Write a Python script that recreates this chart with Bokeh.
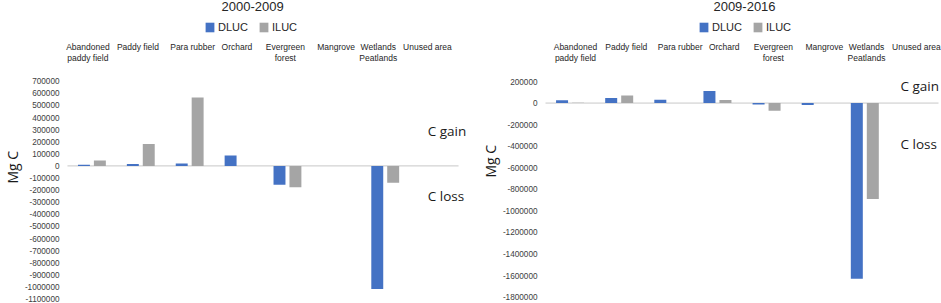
from bokeh.plotting import figure
from bokeh.layouts import row
from bokeh.models import (Range1d, FixedTicker, LinearAxis, Label, Legend, LegendItem,
                          NumeralTickFormatter, Title)
from bokeh.embed import file_html
from bokeh.resources import INLINE
import numpy as np

categories = ["Abandoned\npaddy field", "Paddy field", "Para rubber", "Orchard",
              "Evergreen\nforest", "Mangrove", "Wetlands\nPeatlands", "Unused area"]
series_names = ["DLUC", "ILUC"]

# 2000-2009 (Mg C)
title_a = "2000-2009"
dluc_a = [10000, 15000, 20000, 85000, -155000, 0, -1017000, 0]
iluc_a = [44000, 182000, 565000, 0, -177000, 0, -140000, 0]
ticks_a = list(range(-1100000, 700001, 100000))

# 2009-2016 (Mg C)
title_b = "2009-2016"
dluc_b = [25000, 46000, 30000, 111000, -13000, -18000, -1630000, 0]
iluc_b = [3000, 71000, 0, 28000, -71000, 0, -890000, 0]
ticks_b = list(range(-1800000, 200001, 200000))

BLUE = "#4472C4"
GRAY = "#A5A5A5"
FONT = "Liberation Sans"
H = 303


def panel(title, dluc, iluc, ticks, width, frame_left, fl, fr, tick_px, lay):
    n = len(categories)
    cw = (fr - fl) / n
    v_top, v_bot = ticks[-1], ticks[0]
    px_top, px_bot = tick_px
    s = (px_bot - px_top) / (v_top - v_bot)
    y0 = v_bot - (H - px_bot) / s
    y1 = v_top + px_top / s

    def vy(px):
        return v_top + (px_top - px) / s

    def vx(px):
        return (px - fl) / cw

    p = figure(width=width, height=H, output_backend="svg", toolbar_location=None,
               x_range=Range1d(vx(frame_left), vx(width)), y_range=Range1d(y0, y1),
               x_axis_location=None, y_axis_location=None,
               min_border_left=frame_left, min_border_right=0,
               min_border_top=0, min_border_bottom=0)
    p.outline_line_color = None
    p.grid.visible = False

    ya = LinearAxis(ticker=FixedTicker(ticks=ticks), formatter=NumeralTickFormatter(format="0"))
    ya.axis_line_color = None
    ya.major_tick_line_color = None
    ya.minor_tick_line_color = None
    ya.major_tick_in = 0
    ya.major_tick_out = 0
    ya.major_label_text_font = FONT
    ya.major_label_text_font_size = "8.2px"
    ya.major_label_text_color = "#404040"
    ya.major_label_standoff = 0
    p.add_layout(ya, "left")

    # y-axis title, placed along the left side
    p.add_layout(Title(text="Mg C", align="left", offset=lay["mgc_offset"], standoff=lay["mgc_standoff"],
                       text_font="Open Sans", text_font_size="14px", text_font_style="normal",
                       text_color="#1a1a1a"), "left")

    # zero (category) axis line
    p.segment(x0=[0], x1=[n], y0=[0], y1=[0], line_color="#C8C8C8", line_width=1)

    xs = np.arange(n) + 0.5
    bw = 12 / cw
    off = 8 / cw
    r1 = p.vbar(x=xs - off, top=dluc, bottom=0, width=bw, fill_color=BLUE, line_color=None)
    r2 = p.vbar(x=xs + off, top=iluc, bottom=0, width=bw, fill_color=GRAY, line_color=None)

    # category labels (top)
    for x, c, dx in zip(xs, categories, lay["cat_dx"]):
        p.add_layout(Label(x=x + dx / cw, y=vy(41.8), text=c, text_font=FONT,
                           text_font_size="8.5px", text_align="center", text_baseline="top",
                           text_line_height=1.12, text_color="#262626"))

    # title
    p.add_layout(Label(x=vx(lay["title_x"]), y=vy(6.3), text=title, text_font=FONT,
                       text_font_size="13px", text_align="center", text_baseline="middle",
                       text_color="#262626"))

    # legend
    leg = Legend(items=[LegendItem(label=series_names[0], renderers=[r1]),
                        LegendItem(label=series_names[1], renderers=[r2])],
                 orientation="horizontal", location=(lay["leg_x"] - frame_left, H - 33),
                 label_text_font=FONT, label_text_font_size="11px",
                 glyph_width=11, glyph_height=12, spacing=10, padding=0, margin=0,
                 border_line_color=None, background_fill_alpha=0, label_standoff=3,
                 label_text_color="#262626")
    p.add_layout(leg, "center")

    for txt, py in (("C gain", lay["gain_y"]), ("C loss", lay["loss_y"])):
        p.add_layout(Label(x=vx(lay["cx"]), y=vy(py), text=txt, text_font="Open Sans",
                           text_font_size="13.5px", text_baseline="middle", text_color="#1a1a1a"))
    return p


p1 = panel(title_a, dluc_a, iluc_a, ticks_a, 470, 57, 65, 458, (80.7, 298.5),
           dict(cat_dx=[-4, -2.9, 3, -1.6, -2.1, -0.2, -7, -6.7], title_x=251, leg_x=202,
                gain_y=130, loss_y=195, cx=427, mgc_offset=120, mgc_standoff=0))
p2 = panel(title_b, dluc_b, iluc_b, ticks_b, 471, 67, 75, 468, (81, 296.7),
           dict(cat_dx=[5.4, 7.1, 11.9, 6.8, 6.8, 8.6, 1.7, 2.5], title_x=274, leg_x=228,
                gain_y=85.5, loss_y=143, cx=430, mgc_offset=126, mgc_standoff=0))

p = row(p1, p2)
open("out.html", "w").write(file_html(p, INLINE))
